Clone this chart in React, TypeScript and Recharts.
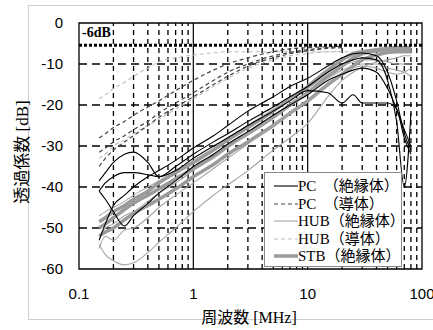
import React from 'react';
import { LineChart, Line, XAxis, YAxis, ReferenceLine, ReferenceArea } from 'recharts';

// Frequency points [MHz]
const freq = [0.15, 0.17, 0.2, 0.25, 0.3, 0.4, 0.5, 0.7, 1, 1.5, 2, 3, 5, 7, 10, 15, 20, 25, 30, 40, 50, 60, 70, 80];

// PC (絶縁体)
const pcIns1 = [-53, -49, -44.5, -42, -40, -37.5, -36, -33.5, -30.5, -27.5, -25, -21.5, -18, -15.5, -13.5, -10.5, -8.5, -7.5, -7.3, -8, -12, -19, -27, -31];
const pcIns2 = [-38.5, -36.5, -34, -32, -31.5, -34, -37.5, -36, -33, -30, -28, -25, -21.5, -19, -16.5, -17, -19.5, -17.5, -19.5, -19.5, -19.5, -21, -28, -32];
const pcIns3 = [-41, -39, -37.5, -36.5, -36.5, -37, -37.5, -35, -32, -29, -27, -24, -20.5, -18, -15.5, -12, -10, -9, -8.5, -9, -14, -24, -40, -22];
const pcIns4 = [-41, -43, -46, -49.5, -47, -44, -41.5, -38.5, -35, -32, -29.5, -26.5, -22.5, -20, -17.5, -14, -12.5, -11.5, -11, -12, -16, -21, -26, -30];

// PC (導体)
const pcCond1 = [-28, -27, -25.5, -24, -22.5, -20.5, -19, -16.5, -14, -11.5, -10, -8.5, -7, -6.3, -6, -5.8, -5.6, null, null, null, null, null, null, null];
const pcCond2 = [-31.5, -30.5, -29, -27.5, -26, -24, -22, -19.5, -17, -14, -12, -10, -8, -7.2, -6.5, -6, -5.8, null, null, null, null, null, null, null];
const pcCond3 = [-35, -33, -31, -29, -27.5, -25, -23, -20.5, -18, -15, -13, -10.5, -8.5, -7.5, -6.8, -6.2, -6, null, null, null, null, null, null, null];

// HUB (絶縁体)
const hubIns1 = [-54, -56.5, -58, -59, -58.5, -56, -53.5, -50, -46, -42, -39.5, -36, -31, -28, -24.5, -18, -14, -12, -10.8, -9.5, -9, -8.5, -8, -8];
const hubIns2 = [-52, -50, -49, -47, -46, -43.5, -41.5, -39, -36, -33, -30.5, -27, -23, -20, -17, -13.5, -11.5, -10.5, -10, -10, -11, -11.5, -12, -13];
const hubIns3 = [-47, -46, -45, -43.5, -42, -40, -38.5, -36, -33.5, -30.5, -28, -25, -21, -18.5, -16, -12.5, -10.5, -9.5, -9, -9, -9.5, -10, -10, -10];
const hubIns4 = [-55, -52, -53, -50.5, -50, -47.5, -45, -42, -39, -35.5, -33, -29.5, -25, -22, -19, -15, -12.5, -11, -10.5, -11, -12, -12.5, -12, -11];

// HUB (導体)
const hubCond1 = [-18.5, -17.5, -16, -14.5, -13, -11, -9.5, -8.5, -7.8, -7.3, -7, -7, -7, -7, -7, -7, -7, null, null, null, null, null, null, null];
const hubCond2 = [-33, -32, -30, -28.5, -27, -25, -23.5, -21, -18.5, -15.5, -13.5, -11, -9, -8, -7.5, -7, -7, -7, null, null, null, null, null, null];

// STB (絶縁体)
const stb1 = [-50, -49, -47.5, -45.5, -44, -42, -40.5, -38, -35.5, -32.5, -30, -27, -23, -20, -17, -13, -10.5, -8.5, -7.5, -6.8, -6.5, -6.5, -6.5, -6.5];
const stb2 = [-52, -51, -50, -48, -46.5, -44.5, -43, -40.5, -37.5, -34.5, -32, -29, -25, -22, -19, -15, -12.5, -10.5, -9, -7.8, -7.2, -7, -7, -7];
const stb3 = [-48.5, -47.5, -46, -44.5, -43, -41, -39, -36.5, -34, -31, -28.5, -25.5, -21.5, -18.5, -15.5, -11.5, -9, -7.5, -7, -6.5, -6.2, -6, -6, -6];

const xTicks = [0.1, 1, 10, 100];
const yTicks = [0, -10, -20, -30, -40, -50, -60];
const minorFreqs = [0.2, 0.3, 0.4, 0.5, 0.6, 0.7, 0.8, 0.9, 2, 3, 4, 5, 6, 7, 8, 9, 20, 30, 40, 50, 60, 70, 80, 90];
const majorFreqs = [1, 10];
const hGrid = [-10, -20, -30, -40, -50];
const limitDb = -5.4;
const limitLabel = '-6dB';
const legendLabels = ['PC\u3000（絶縁体）', 'PC\u3000（導体）', 'HUB（絶縁体）', 'HUB（導体）', 'STB（絶縁体）'];
const xTitle = '周波数 [MHz]';
const yTitle = '透過係数 [dB]';

const groupStyles = [
  { stroke: '#000000', width: 1.1, dash: undefined as string | undefined },
  { stroke: '#444444', width: 1.2, dash: '4 3' },
  { stroke: '#a6a6a6', width: 1.1, dash: undefined },
  { stroke: '#bdbdbd', width: 1.1, dash: '4 3' },
  { stroke: '#9a9a9a', width: 3.5, dash: undefined },
];

const seriesList: { key: string; values: (number | null)[]; group: number }[] = [
  { key: 'stb2', values: stb2, group: 4 },
  { key: 'stb1', values: stb1, group: 4 },
  { key: 'stb3', values: stb3, group: 4 },
  { key: 'hubIns1', values: hubIns1, group: 2 },
  { key: 'hubIns2', values: hubIns2, group: 2 },
  { key: 'hubIns3', values: hubIns3, group: 2 },
  { key: 'hubIns4', values: hubIns4, group: 2 },
  { key: 'hubCond1', values: hubCond1, group: 3 },
  { key: 'hubCond2', values: hubCond2, group: 3 },
  { key: 'pcCond1', values: pcCond1, group: 1 },
  { key: 'pcCond2', values: pcCond2, group: 1 },
  { key: 'pcCond3', values: pcCond3, group: 1 },
  { key: 'pcIns1', values: pcIns1, group: 0 },
  { key: 'pcIns2', values: pcIns2, group: 0 },
  { key: 'pcIns3', values: pcIns3, group: 0 },
  { key: 'pcIns4', values: pcIns4, group: 0 },
];

const data = freq.map((f, i) => {
  const row: Record<string, number | null> = { f };
  seriesList.forEach((s) => {
    row[s.key] = s.values[i];
  });
  return row;
});

const tickStyle = { fontFamily: "'Liberation Sans', Arial, sans-serif", fontSize: 15, fill: '#000' };
const serif = "'Liberation Serif', 'Noto Sans CJK JP', serif";

const LimitLabel = (p: any) => {
  const vb = p.viewBox || {};
  return (
    <text x={(vb.x || 0) + 3} y={(vb.y || 0) - 8} fontFamily={serif} fontWeight="bold" fontSize={14} fill="#000">
      {limitLabel}
    </text>
  );
};

export default function App() {
  return (
    <div style={{ position: 'absolute', left: 0, top: 0, width: 433, height: 330, background: '#fff', overflow: 'hidden' }}>
      <div style={{ position: 'absolute', left: 28, top: 5, width: 420, height: 313, border: '1px solid #cfcfcf' }} />
      <div style={{ position: 'absolute', left: 0, top: 0 }}>
        <LineChart width={433} height={330} data={data} margin={{ top: 23, right: 11, bottom: 31, left: 0 }}>
          <XAxis
            dataKey="f"
            type="number"
            scale="log"
            domain={[0.1, 100]}
            ticks={xTicks}
            allowDataOverflow
            axisLine={false}
            tickLine={false}
            tickMargin={13}
            height={30}
            interval={0}
            tick={tickStyle}
            tickFormatter={(v: number) => String(v)}
          />
          <YAxis
            type="number"
            domain={[-60, 0]}
            ticks={yTicks}
            allowDataOverflow
            axisLine={false}
            tickLine={false}
            tickMargin={10}
            width={79}
            interval={0}
            tick={tickStyle}
          />
          {minorFreqs.map((f) => (
            <ReferenceLine key={'mx' + f} x={f} stroke="#000" strokeWidth={1.3} strokeDasharray="5 4" />
          ))}
          {majorFreqs.map((f) => (
            <ReferenceLine key={'Mx' + f} x={f} stroke="#000" strokeWidth={1.2} />
          ))}
          {hGrid.map((v) => (
            <ReferenceLine key={'hy' + v} y={v} stroke="#000" strokeWidth={1.3} strokeDasharray="8 5" />
          ))}
          {seriesList.map((s) => {
            const st = groupStyles[s.group];
            return (
              <Line
                key={s.key}
                dataKey={s.key}
                type="monotone"
                stroke={st.stroke}
                strokeWidth={st.width}
                strokeDasharray={st.dash}
                dot={false}
                activeDot={false}
                isAnimationActive={false}
                connectNulls={false}
              />
            );
          })}
          <ReferenceLine y={limitDb} stroke="#000" strokeWidth={3} strokeDasharray="3 2" label={<LimitLabel />} />
          <ReferenceArea x1={0.1} x2={100} y1={-60} y2={0} fill="none" stroke="#000" strokeWidth={1.3} />
        </LineChart>
      </div>
      <svg width={433} height={330} style={{ position: 'absolute', left: 0, top: 0, pointerEvents: 'none' }}>
        <text x={249} y={323} textAnchor="middle" fontFamily={serif} fontSize={16} fill="#000">
          {xTitle}
        </text>
        <text
          x={0}
          y={0}
          transform="translate(28,152) rotate(-90)"
          textAnchor="middle"
          fontFamily={serif}
          fontSize={17}
          fill="#000"
        >
          {yTitle}
        </text>
      </svg>
      <div
        style={{
          position: 'absolute',
          left: 264,
          top: 172,
          width: 136,
          height: 93,
          border: '1px solid #8a8a8a',
          background: '#fff',
        }}
      >
        {legendLabels.map((lab, i) => {
          const st = groupStyles[i];
          return (
            <div key={lab} style={{ position: 'absolute', left: 0, top: 4 + i * 17.6, height: 17.6, width: 136 }}>
              <svg width={30} height={18} style={{ position: 'absolute', left: 7, top: 0 }}>
                <line x1={2} y1={9} x2={26} y2={9} stroke={st.stroke} strokeWidth={st.width} strokeDasharray={st.dash} />
              </svg>
              <span
                style={{
                  position: 'absolute',
                  left: 33,
                  top: 0,
                  fontFamily: serif,
                  fontSize: 15,
                  lineHeight: '18px',
                  whiteSpace: 'nowrap',
                  color: '#000',
                }}
              >
                {lab}
              </span>
            </div>
          );
        })}
      </div>
    </div>
  );
}
